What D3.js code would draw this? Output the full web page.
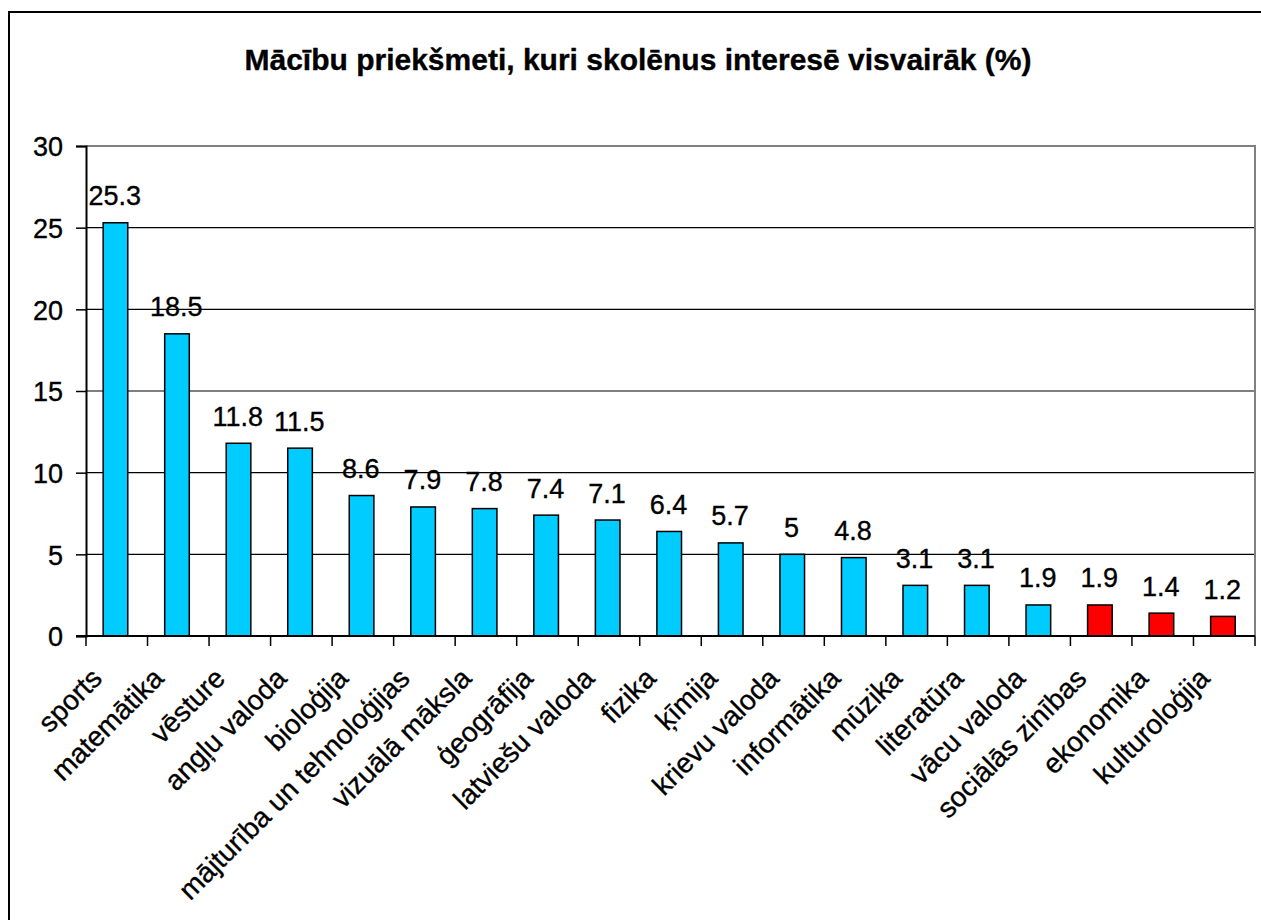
<!DOCTYPE html>
<html>
<head>
<meta charset="utf-8">
<script src="https://cdn.jsdelivr.net/npm/d3@7"></script>
<style>
  html, body { margin: 0; padding: 0; background: #fff; }
  svg { display: block; }
  text { font-family: "Liberation Sans", Arial, sans-serif; fill: #000; stroke: #000; stroke-width: 0.35px; }
</style>
</head>
<body>
<svg id="chart" width="1261" height="920"></svg>
<script>
const title = "Mācību priekšmeti, kuri skolēnus interesē visvairāk (%)";
const categories = ["sports", "matemātika", "vēsture", "angļu valoda", "bioloģija",
  "mājturība un tehnoloģijas", "vizuālā māksla", "ģeogrāfija", "latviešu valoda",
  "fizika", "ķīmija", "krievu valoda", "informātika", "mūzika", "literatūra",
  "vācu valoda", "sociālās zinības", "ekonomika", "kulturoloģija"];
const values = [25.3, 18.5, 11.8, 11.5, 8.6, 7.9, 7.8, 7.4, 7.1, 6.4, 5.7, 5, 4.8, 3.1, 3.1, 1.9, 1.9, 1.4, 1.2];
const highlighted = ["sociālās zinības", "ekonomika", "kulturoloģija"];
const yTicks = [0, 5, 10, 15, 20, 25, 30];

const svg = d3.select("#chart");
const plotLeft = 86, plotRight = 1255, plotTop = 146, plotBottom = 636;

// outer border
svg.append("rect").attr("x", 9).attr("y", 12).attr("width", 1270).attr("height", 1000)
  .attr("fill", "none").attr("stroke", "#000").attr("stroke-width", 2);

const x = d3.scaleBand().domain(categories).range([plotLeft, plotRight]).paddingInner(0.6).paddingOuter(0.3);
const y = d3.scaleLinear().domain([0, 30]).range([plotBottom, plotTop]);

// gridlines
svg.append("g").selectAll("line").data(yTicks.filter(t => t > 0 && t < 30)).join("line")
  .attr("x1", plotLeft).attr("x2", plotRight).attr("y1", d => y(d)).attr("y2", d => y(d))
  .attr("stroke", "#000").attr("stroke-width", 1.2);
// plot area border top/right (gray)
svg.append("line").attr("x1", plotLeft).attr("x2", plotRight + 1).attr("y1", y(30)).attr("y2", y(30))
  .attr("stroke", "#808080").attr("stroke-width", 2);
svg.append("line").attr("x1", plotRight).attr("x2", plotRight).attr("y1", y(30)).attr("y2", plotBottom)
  .attr("stroke", "#808080").attr("stroke-width", 2);

// bars
svg.append("g").selectAll("rect").data(categories).join("rect")
  .attr("x", d => x(d) - 1.3)
  .attr("y", (d, i) => y(values[i]))
  .attr("width", x.bandwidth())
  .attr("height", (d, i) => y(0) - y(values[i]))
  .attr("fill", d => highlighted.includes(d) ? "#FF0000" : "#00CCFF")
  .attr("stroke", "#000").attr("stroke-width", 1.5);

// value labels
svg.append("g").selectAll("text").data(categories).join("text")
  .attr("x", d => x(d) + x.bandwidth() / 2 - 2)
  .attr("y", (d, i) => y(values[i]) - 17.5)
  .attr("text-anchor", "middle")
  .attr("font-size", 27)
  .text((d, i) => String(values[i]));

// y axis
const yAxis = d3.axisLeft(y).tickValues(yTicks).tickSize(10).tickPadding(13).tickFormat(d3.format("d"));
const gy = svg.append("g").attr("transform", `translate(${plotLeft},0)`).call(yAxis);
gy.select(".domain").attr("stroke", "#000").attr("stroke-width", 2);
gy.selectAll(".tick line").attr("stroke", "#000").attr("stroke-width", 1.5);
gy.selectAll(".tick text").attr("font-size", 27).attr("font-family", "Liberation Sans, Arial, sans-serif").attr("fill", "#000").attr("dy", "0.36em");

// x axis baseline and ticks at category boundaries
const boundaries = categories.map(d => x(d) - x.step() * x.paddingInner() / 2).concat([plotRight]);
svg.append("g").selectAll("line").data(boundaries).join("line")
  .attr("x1", d => d).attr("x2", d => d).attr("y1", plotBottom).attr("y2", plotBottom + 10)
  .attr("stroke", "#000").attr("stroke-width", 1.5);
svg.append("line").attr("x1", plotLeft - 10).attr("x2", plotRight).attr("y1", plotBottom).attr("y2", plotBottom)
  .attr("stroke", "#000").attr("stroke-width", 2);

// category labels
svg.append("g").selectAll("text").data(categories).join("text")
  .attr("transform", d => `translate(${x(d) + x.bandwidth() / 2 - 13},680) rotate(-45)`)
  .attr("text-anchor", "end")
  .attr("font-size", 28)
  .text(d => d);

// title
svg.append("text").attr("x", 638).attr("y", 70).attr("text-anchor", "middle")
  .attr("font-size", 30).attr("font-weight", "bold").text(title);
</script>
</body>
</html>
